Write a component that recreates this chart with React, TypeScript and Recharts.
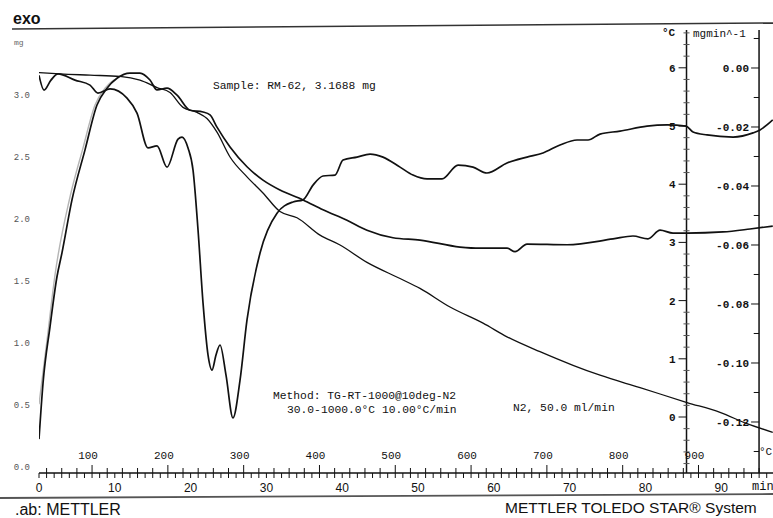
import React from 'react';
import { ComposedChart, Line, XAxis, YAxis, ReferenceLine } from 'recharts';

// ---------- data ----------
// TGA weight curve, mg vs time (min)
const tgaTime = [0, 2.77, 6.73, 10.69, 13.32, 15.57, 17.28, 19.0, 20.84, 22.16, 23.48, 25.2, 27.44, 29.55, 31.79, 34.04, 37.07, 39.71, 43.27, 47.63, 50.26, 54.22, 58.58, 61.74, 66.09, 70.45, 74.01, 79.29, 85.49, 89.84, 93.4, 96.8];
const tgaMass = [3.18, 3.17, 3.16, 3.15, 3.12, 3.06, 3.02, 2.9, 2.86, 2.81, 2.7, 2.5, 2.34, 2.21, 2.06, 2.01, 1.87, 1.79, 1.65, 1.52, 1.44, 1.29, 1.16, 1.05, 0.93, 0.82, 0.74, 0.64, 0.52, 0.44, 0.35, 0.28];

// SDTA curve, °C vs time (min)
const dtaTime = [0, 0.53, 1.45, 2.37, 3.03, 4.35, 6.07, 7.65, 8.97, 10.29, 12.0, 13.32, 14.64, 15.57, 16.89, 18.21, 19.92, 21.64, 22.56, 23.48, 25.2, 27.44, 29.55, 31.79, 34.83, 37.47, 40.63, 43.27, 46.7, 50.26, 55.54, 58.18, 61.74, 62.8, 64.38, 69.66, 75.73, 78.36, 80.34, 81.93, 83.64, 85.49, 90.24, 93.8, 96.8];
const dtaValue = [-0.38, 0.58, 1.55, 2.41, 2.82, 3.73, 4.59, 5.36, 5.65, 5.82, 5.91, 5.91, 5.79, 5.62, 5.65, 5.53, 5.27, 5.24, 5.19, 4.98, 4.64, 4.3, 4.07, 3.9, 3.73, 3.56, 3.38, 3.21, 3.08, 3.04, 2.92, 2.9, 2.9, 2.84, 2.97, 2.96, 3.06, 3.11, 3.06, 3.21, 3.16, 3.16, 3.18, 3.23, 3.28];

// faint grey trace beside the SDTA rise
const dtaRefTime = [0, 1.06, 2.11, 4.09, 5.8, 7.39, 8.71, 10.0];
const dtaRefValue = [0.22, 1.32, 2.44, 3.78, 4.62, 5.36, 5.65, 5.8];

// DTG curve, mg/min vs time (min)
const dtgTime = [0, 0.66, 1.58, 2.51, 4.75, 6.73, 7.78, 9.37, 11.61, 12.93, 14.38, 15.57, 16.89, 18.34, 18.87, 19.66, 20.32, 20.98, 21.64, 22.3, 22.82, 23.35, 23.88, 24.67, 25.59, 26.52, 27.44, 29.16, 31.4, 33.51, 34.83, 36.15, 37.47, 39.05, 40.11, 41.95, 43.67, 45.38, 47.63, 49.34, 51.19, 53.17, 55.28, 57.26, 59.1, 61.74, 64.38, 66.49, 68.73, 70.98, 72.43, 74.01, 76.65, 80.21, 82.85, 85.36, 86.28, 88.13, 91.56, 94.2, 95.12, 96.8];
const dtgValue = [-0.0025, -0.0075, -0.0041, -0.002, -0.0041, -0.0058, -0.0085, -0.0071, -0.0102, -0.0153, -0.0271, -0.0264, -0.0336, -0.0241, -0.0234, -0.0271, -0.0346, -0.0549, -0.0797, -0.0973, -0.1024, -0.0973, -0.0939, -0.1041, -0.1186, -0.1058, -0.0854, -0.0627, -0.0492, -0.0454, -0.0447, -0.0397, -0.0366, -0.0363, -0.0312, -0.0302, -0.0292, -0.0302, -0.0336, -0.0363, -0.0376, -0.0376, -0.0329, -0.0336, -0.0356, -0.0322, -0.0302, -0.0288, -0.0261, -0.0244, -0.0244, -0.0224, -0.0214, -0.0197, -0.0193, -0.0197, -0.0217, -0.0227, -0.0234, -0.022, -0.021, -0.0176];

// ---------- axes ----------
const timeDomain = [0, 96.83];
const massDomain = [-0.0484, 3.5242];
const dtaDomain = [-0.9622, 6.6495];
const dtgDomain = [-0.13729, 0.012881];

const timeTicks = Array.from({ length: 97 }, (_, i) => i);
const timeLabels = [0, 10, 20, 30, 40, 50, 60, 70, 80, 90];
// furnace temperature scale (30 °C + 10 °C/min): marks every 20 °C, labels every 100 °C
const tempMarkTimes = [1, 3, 5, 7, 9, 11, 13, 15, 17, 19, 21, 23, 25, 27, 29, 31, 33, 35, 37, 39, 41, 43, 45, 47, 49, 51, 53, 55, 57, 59, 61, 63, 65, 67, 69, 71, 73, 75, 77, 79, 81, 83, 85, 87, 89, 91, 93, 95];
const tempLabelTimes = [7, 17, 27, 37, 47, 57, 67, 77, 87];
const tempLabels = ['100', '200', '300', '400', '500', '600', '700', '800', '900'];

const massTicks = Array.from({ length: 35 }, (_, i) => i / 10);
const massLabels = ['0.0', '0.5', '1.0', '1.5', '2.0', '2.5', '3.0'];

const dtaAxisTime = 85.42;
const dtgAxisTime = 94.99;
const dtaMajor = [0, 1, 2, 3, 4, 5, 6];
const dtaMinor = Array.from({ length: 38 }, (_, i) => Math.round((-0.8 + 0.2 * i) * 10) / 10).filter(
  (v) => Math.abs(v - Math.round(v)) > 1e-6
);
const dtgMajor = [0, -0.02, -0.04, -0.06, -0.08, -0.1, -0.12];
const dtgMajorLabels = ['0.00', '-0.02', '-0.04', '-0.06', '-0.08', '-0.10', '-0.12'];
const dtgMinor = [0.01, -0.01, -0.03, -0.05, -0.07, -0.09, -0.11, -0.13];

const zip = (ts: number[], vs: number[]) => ts.map((t, i) => ({ t, v: vs[i] }));
const tgaData = zip(tgaTime, tgaMass);
const dtaData = zip(dtaTime, dtaValue);
const dtaRefData = zip(dtaRefTime, dtaRefValue);
const dtgData = zip(dtgTime, dtgValue);

const MONO = "'Liberation Mono', 'DejaVu Sans Mono', monospace";
const SANS = "'Liberation Sans', Arial, sans-serif";
const INK = '#111';
const LEFT_LABEL_X = 30; // right edge of the left-axis labels

const TimeTick = (props: any) => {
  const { x, y, payload } = props;
  const t = Math.round(payload.value);
  const axisY = y - 11;
  const li = tempLabelTimes.indexOf(t);
  const isMark = tempMarkTimes.includes(t);
  return (
    <g>
      {timeLabels.includes(t) && (
        <text x={x} y={y} dy={8} textAnchor="middle" fontSize={12} fontFamily={SANS} fill={INK}>
          {t}
        </text>
      )}
      {isMark && <line x1={x} x2={x} y1={axisY} y2={axisY - (li >= 0 ? 8 : 5)} stroke={INK} strokeWidth={1} />}
      {li >= 0 && (
        <text x={x - 4} y={axisY - 14} textAnchor="middle" fontSize={11} fontFamily={MONO} fill={INK}>
          {tempLabels[li]}
        </text>
      )}
    </g>
  );
};

const MassTick = (props: any) => {
  const { y, payload } = props;
  const s = Number(payload.value).toFixed(1);
  if (!massLabels.includes(s)) return <g />;
  return (
    <text x={LEFT_LABEL_X} y={y} dy={3} textAnchor="end" fontSize={9} fontFamily={MONO} fill="#555">
      {s}
    </text>
  );
};

export default function App() {
  const majorLen = 1.05; // min (≈8px)
  const minorLen = 0.4;
  return (
    <div style={{ position: 'absolute', left: 0, top: 0, width: 773, height: 518, background: '#fff', overflow: 'hidden' }}>
      <ComposedChart width={773} height={518} margin={{ top: 30, right: 0, bottom: 15, left: 0 }}>
        <XAxis
          xAxisId="time"
          dataKey="t"
          type="number"
          domain={timeDomain}
          allowDataOverflow
          ticks={timeTicks}
          interval={0}
          height={30}
          tickSize={5}
          tickMargin={6}
          tick={<TimeTick />}
          axisLine={{ stroke: INK, strokeWidth: 1.5 }}
          tickLine={{ stroke: INK }}
        />
        <YAxis
          yAxisId="mg"
          type="number"
          domain={massDomain}
          allowDataOverflow
          ticks={massTicks}
          interval={0}
          width={39}
          tickSize={6}
          tickMargin={3}
          tick={<MassTick />}
          axisLine={{ stroke: INK, strokeWidth: 1.5 }}
          tickLine={{ stroke: INK }}
        />
        <YAxis yAxisId="dta" type="number" domain={dtaDomain} allowDataOverflow hide />
        <YAxis yAxisId="dtg" type="number" domain={dtgDomain} allowDataOverflow hide />

        {/* inner °C axis */}
        <ReferenceLine xAxisId="time" yAxisId="dta" x={dtaAxisTime} stroke={INK} strokeWidth={1.5} />
        {dtaMajor.map((v) => (
          <ReferenceLine
            key={'dM' + v}
            xAxisId="time"
            yAxisId="dta"
            segment={[{ x: dtaAxisTime - majorLen, y: v }, { x: dtaAxisTime, y: v }]}
            stroke={INK}
            label={{ value: String(v), position: 'left', offset: 3, fontSize: 11, fontFamily: MONO, fill: INK, fontWeight: 'bold' }}
          />
        ))}
        {dtaMinor.map((v) => (
          <ReferenceLine
            key={'dm' + v}
            xAxisId="time"
            yAxisId="dta"
            segment={[{ x: dtaAxisTime - minorLen, y: v }, { x: dtaAxisTime + minorLen, y: v }]}
            stroke="#555"
          />
        ))}

        {/* inner mg/min axis */}
        <ReferenceLine xAxisId="time" yAxisId="dtg" x={dtgAxisTime} stroke={INK} strokeWidth={1.5} />
        {dtgMajor.map((v, i) => (
          <ReferenceLine
            key={'gM' + v}
            xAxisId="time"
            yAxisId="dtg"
            segment={[{ x: dtgAxisTime - majorLen, y: v }, { x: dtgAxisTime, y: v }]}
            stroke={INK}
            label={{ value: dtgMajorLabels[i], position: 'left', offset: 2, fontSize: 11, fontFamily: MONO, fill: INK, fontWeight: 'bold' }}
          />
        ))}
        {dtgMinor.map((v) => (
          <ReferenceLine
            key={'gm' + v}
            xAxisId="time"
            yAxisId="dtg"
            segment={[{ x: dtgAxisTime - 0.7, y: v }, { x: dtgAxisTime, y: v }]}
            stroke={INK}
          />
        ))}

        <Line xAxisId="time" yAxisId="dta" data={dtaRefData} dataKey="v" type="monotone" dot={false} stroke="#b5b5b5" strokeWidth={1.4} isAnimationActive={false} />
        <Line xAxisId="time" yAxisId="mg" data={tgaData} dataKey="v" type="monotone" dot={false} stroke={INK} strokeWidth={1.3} isAnimationActive={false} />
        <Line xAxisId="time" yAxisId="dta" data={dtaData} dataKey="v" type="monotone" dot={false} stroke={INK} strokeWidth={1.7} isAnimationActive={false} />
        <Line xAxisId="time" yAxisId="dtg" data={dtgData} dataKey="v" type="monotone" dot={false} stroke={INK} strokeWidth={1.7} isAnimationActive={false} />
      </ComposedChart>

      <svg width={773} height={518} style={{ position: 'absolute', left: 0, top: 0, pointerEvents: 'none' }}>
        <text x={13} y={24} fontFamily={SANS} fontWeight="bold" fontSize={16} fill={INK}>exo</text>
        <line x1={12} y1={29} x2={773} y2={23} stroke="#333" strokeWidth={1.5} />
        <text x={14} y={45} fontFamily={MONO} fontSize={8} fill="#666">mg</text>

        <text x={662} y={36} fontFamily={MONO} fontSize={11} fontWeight="bold" fill={INK}>°C</text>
        <text x={693} y={37} fontFamily={MONO} fontSize={11} fill={INK}>mgmin^-1</text>

        <text x={213} y={89} fontFamily={MONO} fontSize={11.3} fill={INK}>Sample: RM-62, 3.1688 mg</text>
        <text x={273} y={399} fontFamily={MONO} fontSize={11.3} fill={INK}>Method: TG-RT-1000@10deg-N2</text>
        <text x={287} y={413} fontFamily={MONO} fontSize={11.3} fill={INK}>30.0-1000.0°C 10.00°C/min</text>
        <text x={513} y={411} fontFamily={MONO} fontSize={11.3} fill={INK}>N2, 50.0 ml/min</text>

        <text x={759} y={455} fontFamily={MONO} fontSize={11} fill={INK}>°C</text>
        <text x={752} y={490} fontFamily={MONO} fontSize={12} fill={INK}>min</text>

        <line x1={0} y1={498} x2={773} y2={494} stroke="#555" strokeWidth={1.8} />
        <text x={15} y={515} fontFamily={SANS} fontSize={16} fill={INK}>.ab: METTLER</text>
        <text x={505} y={513} fontFamily={SANS} fontSize={15.5} fill={INK}>METTLER TOLEDO STAR® System</text>
      </svg>
    </div>
  );
}
